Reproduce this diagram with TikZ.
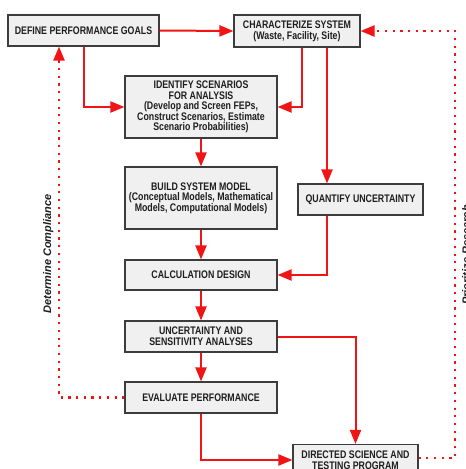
\documentclass[tikz,border=0pt]{standalone}
\usepackage{fontspec}
\setmainfont{Liberation Sans}
\newfontfamily\boxfont[FakeStretch=0.8]{Liberation Sans}
\usetikzlibrary{arrows.meta}
\definecolor{boxfill}{HTML}{F0F0F0}
\definecolor{boxline}{HTML}{3C3C3C}
\definecolor{arrred}{HTML}{F01414}
\definecolor{txt}{HTML}{1E1E1E}
\begin{document}
\begin{tikzpicture}[x=1pt,y=-1pt,
  box/.style={draw=boxline, fill=boxfill, line width=1.1pt, inner sep=0pt, align=center,
    font=\boxfont\bfseries\fontsize{11}{10.6}\selectfont, text=txt},
  flow/.style={draw=arrred, line width=2pt, -{Triangle[length=14pt,width=11pt]}},
  loopline/.style={draw=arrred, line width=2.2pt, dash pattern=on 2.2pt off 5.5pt, line cap=butt,
    -{Triangle[length=14pt,width=11pt]}},
  side/.style={rotate=90, anchor=base, font=\bfseries\itshape\fontsize{11}{11}\selectfont, text=txt}]
\useasboundingbox (0,0) rectangle (466,469);
\node[box, minimum width=151, minimum height=31] (goals) at (83.5,30.5) {DEFINE PERFORMANCE GOALS};
\node[box, minimum width=126, minimum height=32] (charsys) at (297,31) {CHARACTERIZE SYSTEM\\(Waste, Facility, Site)};
\node[box, minimum width=152, minimum height=62] (ident) at (201,107) {IDENTIFY SCENARIOS\\FOR ANALYSIS\\(Develop and Screen FEPs,\\Construct Scenarios, Estimate\\Scenario Probabilities)};
\node[box, minimum width=152, minimum height=62] (build) at (201,198) {BUILD SYSTEM MODEL\\(Conceptual Models, Mathematical\\Models, Computational Models)};
\node[box, minimum width=125, minimum height=31] (quant) at (360.5,199.5) {QUANTIFY UNCERTAINTY};
\node[box, minimum width=152, minimum height=30] (calc) at (201,275) {CALCULATION DESIGN};
\node[box, minimum width=152, minimum height=31] (unc) at (201,336.5) {UNCERTAINTY AND\\SENSITIVITY ANALYSES};
\node[box, minimum width=152, minimum height=31] (eval) at (201,397.5) {EVALUATE PERFORMANCE};
\node[box, minimum width=125, minimum height=31] (dir) at (355.5,460) {DIRECTED SCIENCE AND\\TESTING PROGRAM};

\draw[flow] (goals.east) -- (charsys.west);
\draw[flow] (goals.south) |- (ident.west);
\draw[flow] ([xshift=5pt]charsys.south) |- (ident.east);
\draw[flow] ([xshift=30pt]charsys.south) -- ([xshift=30pt]charsys.south |- quant.north);
\draw[flow] (ident.south) -- (build.north);
\draw[flow] (build.south) -- (calc.north);
\draw[flow] ([xshift=-33.5pt]quant.south) |- (calc.east);
\draw[flow] (calc.south) -- (unc.north);
\draw[flow] (unc.east) -| (dir.north);
\draw[flow] (unc.south) -- (eval.north);
\draw[flow] (eval.south) |- (dir.west);

\coordinate (prc) at (455,458);
\draw[loopline] (eval.west) -| ([xshift=-24.5pt]goals.south);
\draw[loopline] (dir.east |- prc) -- (prc) |- (charsys.east);

\node[side] (dc) at (51,254) {Determine Compliance};
\node[side] (pr) at (470,255) {Prioritize Research};
\end{tikzpicture}
\end{document}
